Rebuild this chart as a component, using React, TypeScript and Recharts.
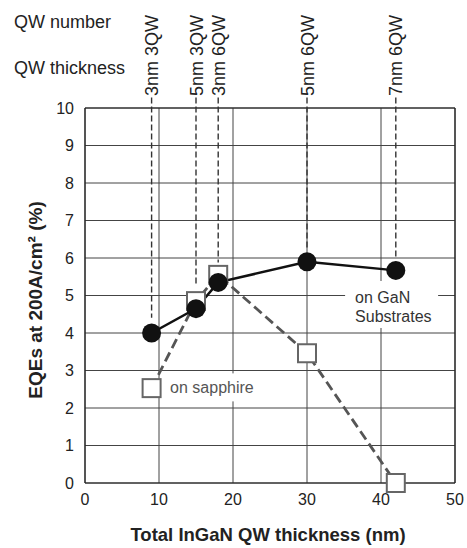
import React from 'react';
import {
  LineChart,
  Line,
  XAxis,
  YAxis,
  CartesianGrid,
  ReferenceLine,
  ReferenceDot,
} from 'recharts';

// ---- data ----
const thickness = [9, 15, 18, 30, 42];
const eqeGaN = [4.0, 4.65, 5.35, 5.9, 5.67];
const eqeSapphire = [2.53, 4.85, 5.55, 3.46, 0];
const qwLabels = ['3nm 3QW', '5nm 3QW', '3nm 6QW', '5nm 6QW', '7nm 6QW'];
const leaderEnds = [4.41, 5.32, 5.88, 6.2, 6.0];
const leaderTop = 10.28;
const xTicks = [0, 10, 20, 30, 40, 50];
const yTicks = [0, 1, 2, 3, 4, 5, 6, 7, 8, 9, 10];

const data = thickness.map((t, i) => ({ t, gan: eqeGaN[i], sap: eqeSapphire[i] }));

const FONT = 'Liberation Sans, Arial, Helvetica, sans-serif';

const TopTick = (props: any) => {
  const { x, y, payload, index } = props;
  const label = qwLabels[thickness.indexOf(payload.value)] ?? qwLabels[index];
  return (
    <text
      transform={`translate(${x + 6.5},${y - 12}) rotate(-90)`}
      textAnchor="start"
      fontSize={18}
      fontFamily={FONT}
      fill="#222"
    >
      {label}
    </text>
  );
};

const SquareDot = (props: any) => {
  const { cx, cy, index } = props;
  if (cx == null || cy == null) return <g key={`sq${index}`} />;
  return (
    <rect
      key={`sq${index}`}
      x={cx - 9}
      y={cy - 9}
      width={18}
      height={18}
      fill="#fff"
      stroke="#666"
      strokeWidth={2}
    />
  );
};

const GaNLabel = (p: any) => (
  <g>
    <rect x={p.cx - 10} y={p.cy - 22} width={93} height={47} fill="#fff" />
    <text x={p.cx} y={p.cy} fontSize={16} fontFamily={FONT} fill="#333">
      on GaN
    </text>
    <text x={p.cx} y={p.cy + 19} fontSize={16} fontFamily={FONT} fill="#333">
      Substrates
    </text>
  </g>
);

const SapphireLabel = (p: any) => (
  <g>
    <rect x={p.cx - 5} y={p.cy - 20} width={92} height={28} fill="#fff" />
    <text x={p.cx} y={p.cy} fontSize={16} fontFamily={FONT} fill="#555">
      on sapphire
    </text>
  </g>
);

export default function App() {
  return (
    <div style={{ position: 'absolute', left: 0, top: 0, width: 467, height: 548, background: '#fff' }}>
      <LineChart
        width={467}
        height={548}
        data={data}
        margin={{ top: 107, right: 12, bottom: 0, left: 0 }}
      >
        <CartesianGrid stroke="#444" strokeWidth={1} horizontalValues={yTicks} verticalValues={xTicks} />
        <XAxis
          type="number"
          dataKey="t"
          domain={[0, 50]}
          ticks={xTicks}
          height={65}
          tickLine={false}
          tickMargin={5}
          axisLine={{ stroke: '#222', strokeWidth: 1.2 }}
          tick={{ fontSize: 16, fill: '#222', fontFamily: FONT }}
          label={{
            content: () => (
              <text
                x={268}
                y={541}
                textAnchor="middle"
                fontSize={18.5}
                fontWeight="bold"
                fontFamily={FONT}
                fill="#222"
              >
                Total InGaN QW thickness (nm)
              </text>
            ),
          }}
        />
        <XAxis
          xAxisId="top"
          orientation="top"
          type="number"
          dataKey="t"
          domain={[0, 50]}
          ticks={thickness}
          height={1}
          tickSize={0}
          tickMargin={0}
          tickLine={false}
          axisLine={false}
          tick={<TopTick />}
          interval={0}
          label={{
            content: () => (
              <g>
                <text x={14} y={28} fontSize={18} fontFamily={FONT} fill="#222">
                  QW number
                </text>
                <text x={14} y={74} fontSize={18} fontFamily={FONT} fill="#222">
                  QW thickness
                </text>
              </g>
            ),
          }}
        />
        <YAxis
          type="number"
          domain={[0, 10]}
          ticks={yTicks}
          width={85}
          tickLine={false}
          tickMargin={5}
          interval={0}
          axisLine={{ stroke: '#222', strokeWidth: 1.2 }}
          tick={{ fontSize: 16, fill: '#222', fontFamily: FONT }}
          label={{
            content: () => (
              <text
                transform="translate(42,300) rotate(-90)"
                textAnchor="middle"
                fontSize={19}
                fontWeight="bold"
                fontFamily={FONT}
                fill="#222"
              >
                EQEs at 200A/cm² (%)
              </text>
            ),
          }}
        />
        <ReferenceLine y={10} stroke="#222" strokeWidth={1.2} />
        <ReferenceLine x={50} stroke="#222" strokeWidth={1.2} />
        {thickness.map((t, i) => (
          <ReferenceLine
            key={`lead${i}`}
            segment={[
              { x: t, y: leaderTop },
              { x: t, y: leaderEnds[i] },
            ]}
            ifOverflow="visible"
            stroke="#333"
            strokeWidth={1.4}
            strokeDasharray="6 3"
          />
        ))}
        <ReferenceDot x={36.5} y={4.8} ifOverflow="visible" shape={GaNLabel} />
        <ReferenceDot x={11.5} y={2.39} ifOverflow="visible" shape={SapphireLabel} />
        <Line
          dataKey="sap"
          stroke="#555"
          strokeWidth={2.8}
          strokeDasharray="10 5"
          dot={SquareDot}
          isAnimationActive={false}
        />
        <Line
          dataKey="gan"
          stroke="#111"
          strokeWidth={2.5}
          dot={{ r: 9.5, fill: '#111', stroke: '#111', strokeWidth: 0 }}
          isAnimationActive={false}
        />
      </LineChart>
    </div>
  );
}
